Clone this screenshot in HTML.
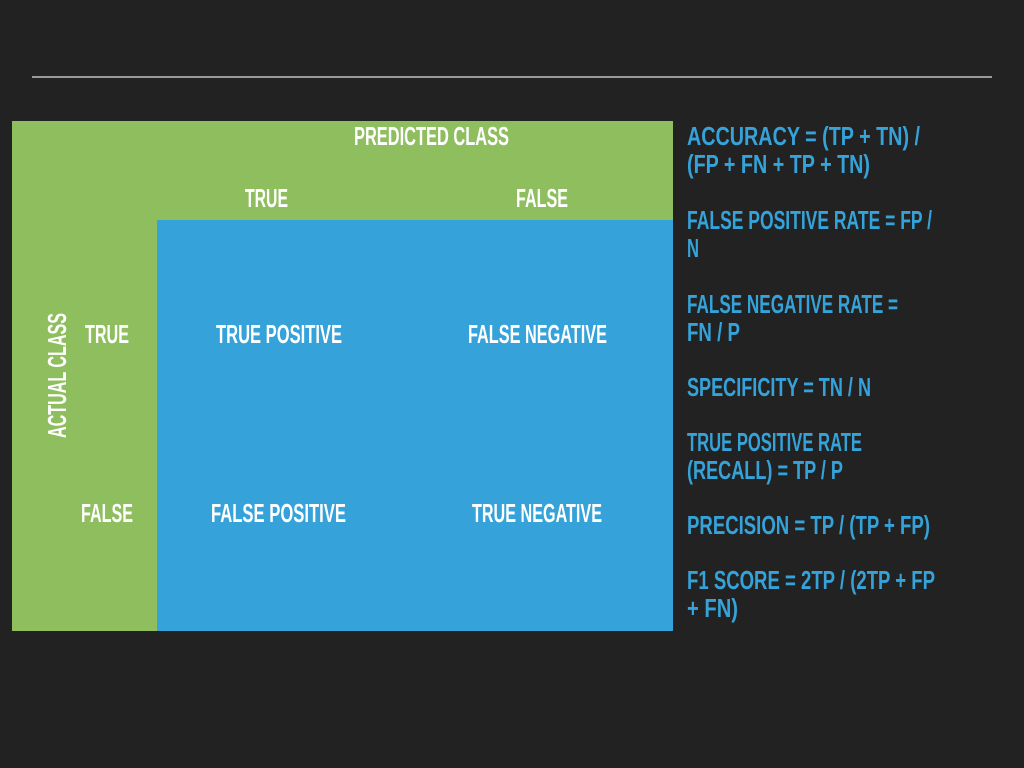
<!DOCTYPE html>
<html><head><meta charset="utf-8"><style>
html,body{margin:0;padding:0;background:#222;}
svg{display:block}
text{font-family:"Liberation Sans Narrow","Liberation Sans",sans-serif;font-weight:bold;font-size:26px;}
.w{fill:#fff}
.b{fill:#35a3d9}
</style></head><body>
<svg width="1024" height="768" viewBox="0 0 1024 768" xmlns="http://www.w3.org/2000/svg">
<rect width="1024" height="768" fill="#222"/>
<rect x="32" y="76" width="960" height="2" fill="#9a9a9a"/>
<rect x="12" y="121" width="661" height="510" fill="#8fbe5f"/>
<rect x="157" y="220" width="516" height="411" fill="#35a3d9"/>
<g class="w" lengthAdjust="spacingAndGlyphs">
<text class="w" x="354" y="145" textLength="155" lengthAdjust="spacingAndGlyphs">PREDICTED CLASS</text>
<text class="w" x="245" y="207" textLength="43" lengthAdjust="spacingAndGlyphs">TRUE</text>
<text class="w" x="516" y="207" textLength="52" lengthAdjust="spacingAndGlyphs">FALSE</text>
<text class="w" x="85" y="343" textLength="44" lengthAdjust="spacingAndGlyphs">TRUE</text>
<text class="w" x="216" y="343" textLength="126" lengthAdjust="spacingAndGlyphs">TRUE POSITIVE</text>
<text class="w" x="468" y="343" textLength="139" lengthAdjust="spacingAndGlyphs">FALSE NEGATIVE</text>
<text class="w" x="81" y="522" textLength="52" lengthAdjust="spacingAndGlyphs">FALSE</text>
<text class="w" x="211" y="522" textLength="135" lengthAdjust="spacingAndGlyphs">FALSE POSITIVE</text>
<text class="w" x="472" y="522" textLength="130" lengthAdjust="spacingAndGlyphs">TRUE NEGATIVE</text>
<text class="w" x="0" y="0" textLength="125" lengthAdjust="spacingAndGlyphs" transform="translate(66,438) rotate(-90)">ACTUAL CLASS</text>
</g>
<text class="b" x="687" y="145" textLength="233" lengthAdjust="spacingAndGlyphs">ACCURACY =  (TP + TN) /</text>
<text class="b" x="687" y="173" textLength="183" lengthAdjust="spacingAndGlyphs">(FP + FN + TP + TN)</text>
<text class="b" x="687" y="229" textLength="245" lengthAdjust="spacingAndGlyphs">FALSE POSITIVE RATE = FP /</text>
<text class="b" x="687" y="257" textLength="12" lengthAdjust="spacingAndGlyphs">N</text>
<text class="b" x="687" y="313" textLength="211" lengthAdjust="spacingAndGlyphs">FALSE NEGATIVE RATE =</text>
<text class="b" x="687" y="341" textLength="53" lengthAdjust="spacingAndGlyphs">FN / P</text>
<text class="b" x="687" y="396" textLength="184" lengthAdjust="spacingAndGlyphs">SPECIFICITY = TN / N</text>
<text class="b" x="687" y="451" textLength="175" lengthAdjust="spacingAndGlyphs">TRUE POSITIVE RATE</text>
<text class="b" x="687" y="479" textLength="156" lengthAdjust="spacingAndGlyphs">(RECALL) = TP / P</text>
<text class="b" x="687" y="534" textLength="243" lengthAdjust="spacingAndGlyphs">PRECISION = TP / (TP + FP)</text>
<text class="b" x="687" y="589" textLength="248" lengthAdjust="spacingAndGlyphs">F1 SCORE = 2TP / (2TP + FP</text>
<text class="b" x="687" y="617" textLength="51" lengthAdjust="spacingAndGlyphs">+ FN)</text>
</svg>
</body></html>
